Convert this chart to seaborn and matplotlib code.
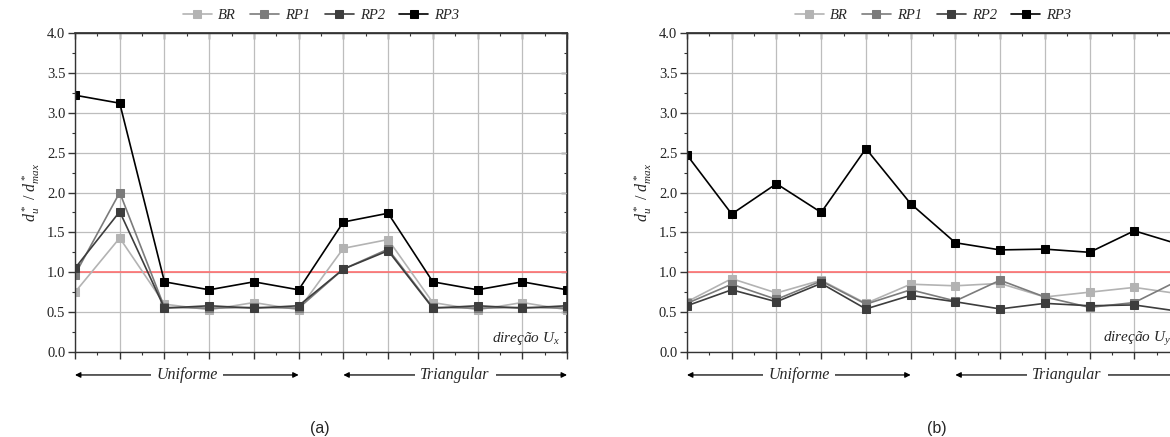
import numpy as np
import pandas as pd
import matplotlib
matplotlib.use("Agg")
import matplotlib.pyplot as plt
from matplotlib.ticker import MultipleLocator, NullFormatter
import seaborn as sns

# ---- data ----
series = ["BR", "RP1", "RP2", "RP3"]
colors = ["#b3b3b3", "#7b7b7b", "#3d3d3d", "#000000"]
positions = list(range(12))

ux_br = [0.75, 1.43, 0.60, 0.53, 0.62, 0.53, 1.30, 1.41, 0.62, 0.53, 0.62, 0.53]
ux_rp1 = [0.97, 2.00, 0.56, 0.55, 0.56, 0.55, 1.04, 1.29, 0.56, 0.55, 0.56, 0.55]
ux_rp2 = [1.05, 1.76, 0.55, 0.58, 0.55, 0.58, 1.04, 1.27, 0.55, 0.58, 0.55, 0.58]
ux_rp3 = [3.22, 3.12, 0.88, 0.78, 0.88, 0.78, 1.63, 1.74, 0.88, 0.78, 0.88, 0.78]

uy_br = [0.63, 0.92, 0.74, 0.90, 0.61, 0.85, 0.83, 0.86, 0.69, 0.75, 0.81, 0.73]
uy_rp1 = [0.61, 0.85, 0.66, 0.89, 0.60, 0.78, 0.64, 0.90, 0.69, 0.56, 0.62, 0.90]
uy_rp2 = [0.58, 0.78, 0.63, 0.86, 0.54, 0.71, 0.63, 0.54, 0.61, 0.58, 0.59, 0.51]
uy_rp3 = [2.47, 1.73, 2.11, 1.75, 2.55, 1.86, 1.37, 1.28, 1.29, 1.25, 1.52, 1.35]

groups = [("Uniforme", 0, 5), ("Triangular", 6, 11)]
panel_labels = ["(a)", "(b)"]
direction_texts = [r"direção $U_x$", r"direção $U_y$"]


def long_table(values):
    rows = []
    for name, vals in zip(series, values):
        for p, v in zip(positions, vals):
            rows.append({"serie": name, "pos": p, "val": v})
    return pd.DataFrame(rows)


tab_x = long_table([ux_br, ux_rp1, ux_rp2, ux_rp3])
tab_y = long_table([uy_br, uy_rp1, uy_rp2, uy_rp3])

sns.set_theme(style="ticks")
plt.rcParams["font.family"] = ["Liberation Serif", "DejaVu Serif"]
plt.rcParams["mathtext.fontset"] = "custom"
plt.rcParams["mathtext.it"] = "Liberation Serif:italic"
plt.rcParams["mathtext.rm"] = "Liberation Serif"

W, H = 1170, 437
fig = plt.figure(figsize=(11.7, 4.37), dpi=100)
ax_a = fig.add_axes([75 / W, (H - 352) / H, 492 / W, 319 / H])
ax_b = fig.add_axes([687 / W, (H - 352) / H, 492 / W, 319 / H])


def style_axis(ax):
    ax.set_xlim(0, 11)
    ax.set_ylim(0, 4)
    ax.xaxis.set_major_locator(MultipleLocator(1))
    ax.xaxis.set_minor_locator(MultipleLocator(0.5))
    ax.yaxis.set_major_locator(MultipleLocator(0.5))
    ax.yaxis.set_minor_locator(MultipleLocator(0.25))
    ax.xaxis.set_major_formatter(NullFormatter())
    ax.set_yticks(np.arange(0, 4.01, 0.5))
    ax.set_yticklabels([f"{v:.1f}" for v in np.arange(0, 4.01, 0.5)])
    ax.tick_params(which="major", direction="out", length=5, width=1, color="#333333",
                   labelsize=10.5, labelcolor="#222222", bottom=True, left=True, pad=2)
    ax.tick_params(which="minor", direction="out", length=2.5, width=0.8, color="#333333",
                   bottom=True, left=True)
    ax.grid(True, which="major", color="#bdbdbd", lw=0.9)
    ax.set_axisbelow(True)
    for s in ax.spines.values():
        s.set_color("#333333")
        s.set_linewidth(1.0)
    top = ax.secondary_xaxis("top")
    top.xaxis.set_major_locator(MultipleLocator(1))
    top.xaxis.set_minor_locator(MultipleLocator(0.5))
    top.xaxis.set_major_formatter(NullFormatter())
    top.tick_params(which="major", direction="in", length=4, width=1, color="#333333")
    top.tick_params(which="minor", direction="in", length=2, width=0.8, color="#333333")
    top.spines["top"].set_color("#333333")
    right = ax.secondary_yaxis("right")
    right.yaxis.set_major_locator(MultipleLocator(0.5))
    right.yaxis.set_minor_locator(MultipleLocator(0.25))
    right.yaxis.set_major_formatter(NullFormatter())
    right.tick_params(which="major", direction="in", length=4, width=1, color="#333333")
    right.tick_params(which="minor", direction="in", length=2, width=0.8, color="#333333")
    right.spines["right"].set_color("#333333")


def draw_panel(ax, table, dir_text):
    style_axis(ax)
    ax.axhline(1.0, color="#ff7070", lw=1.2, zorder=1.5)
    for name, col in zip(series, colors):
        sns.lineplot(data=table[table["serie"] == name], x="pos", y="val", ax=ax,
                     color=col, marker="s", markersize=6, markeredgecolor=col,
                     linewidth=1.2, label=name, legend=False)
    ax.set_xlabel("")
    ax.set_ylabel(r"$d_u^*\ /\ d_{max}^*$", fontsize=11.5)
    ax.yaxis.set_label_coords(-0.068, 0.5)

    handles = ax.get_lines()[1:]
    ax.legend(handles, series, loc="center", bbox_to_anchor=(0.5, 1.056), ncol=4,
              frameon=False, handlelength=2.0, columnspacing=1.0, handletextpad=0.4,
              prop={"family": "Liberation Serif", "style": "italic", "size": 10.5})

    ax.text(0.985, 0.032, dir_text, transform=ax.transAxes, ha="right", va="baseline",
            style="italic", fontsize=11)

    trans = ax.get_xaxis_transform()
    for name, x0, x1 in groups:
        y = -0.072
        ax.annotate("", xy=(x0, y), xytext=(x1, y), xycoords=trans, textcoords=trans,
                    arrowprops=dict(arrowstyle="<|-|>", color="black", lw=0.9,
                                    mutation_scale=8, shrinkA=0, shrinkB=0),
                    annotation_clip=False)
        ax.text((x0 + x1) / 2, y, name, transform=trans, ha="center", va="center",
                style="italic", fontsize=11.5, zorder=5, clip_on=False,
                bbox=dict(facecolor="white", edgecolor="none", pad=4))


draw_panel(ax_a, tab_x, direction_texts[0])
draw_panel(ax_b, tab_y, direction_texts[1])

fig.text(320 / W, 1 - 428 / H, panel_labels[0], ha="center", va="center",
         family="Liberation Sans", fontsize=11.5)
fig.text(937 / W, 1 - 428 / H, panel_labels[1], ha="center", va="center",
         family="Liberation Sans", fontsize=11.5)

fig.savefig("out.png", dpi=100, facecolor="white")
